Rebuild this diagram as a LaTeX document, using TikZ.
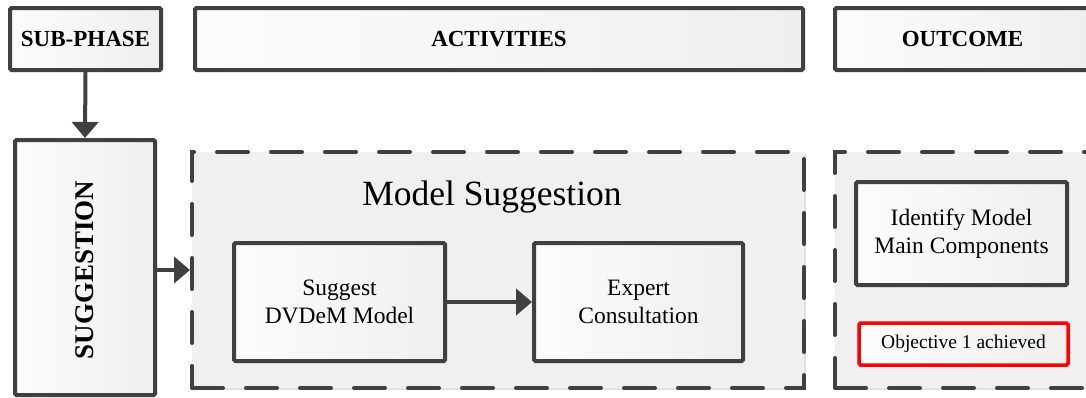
\documentclass[tikz,border=0pt]{standalone}
\usepackage{fontspec}
\setmainfont{Liberation Serif}
\usetikzlibrary{arrows.meta,shadows}
\definecolor{edge}{HTML}{404040}
\definecolor{panel}{HTML}{F0F0F0}
\definecolor{boxend}{HTML}{EFEFEF}
\definecolor{boxstart}{HTML}{FCFCFC}
\tikzset{
  boxshadow/.style={drop shadow={opacity=0.12,shadow xshift=2pt,shadow yshift=-2pt,fill=black}},
  solidbox/.style={draw=edge,line width=4pt,rounded corners=1.5pt,left color=boxstart,right color=boxend,
    boxshadow,inner sep=0pt,align=center,text=black},
  header/.style={solidbox,font=\fontsize{23}{27}\selectfont\bfseries},
  stepbox/.style={solidbox,font=\fontsize{23.5}{28}\selectfont},
  goalbox/.style={draw=red,line width=3.5pt,rounded corners=1.5pt,left color=boxstart,right color=boxend,
    boxshadow,inner sep=0pt,align=center,font=\fontsize{19.5}{23}\selectfont},
  panelbox/.style={draw=edge,fill=panel,line width=4pt,dash pattern=on 31pt off 23pt,line cap=round,
    inner sep=0pt,boxshadow},
  flow/.style={draw=edge,line width=4pt,-{Triangle[length=16pt,width=26pt]}},
}
\begin{document}
\begin{tikzpicture}[x=1pt,y=-1pt]
  \useasboundingbox (0,0) rectangle (1086,397);
  \clip (0,0) rectangle (1086,397);
  \fill[white] (0,0) rectangle (1086,397);

  % column headers
  \node[header,minimum width=151pt,minimum height=62pt] (subphase) at (85.5,39) {SUB-PHASE};
  \node[header,minimum width=608pt,minimum height=62pt] (activities) at (499,39) {ACTIVITIES};
  \node[header,minimum width=255pt,minimum height=62pt] (outcome) at (962.5,39) {OUTCOME};

  % dashed panels
  \node[panelbox,minimum width=612pt,minimum height=236pt] (actpanel) at (498,270) {};
  \node[panelbox,minimum width=265pt,minimum height=236pt] (outpanel) at (967.5,270) {};

  % sub-phase column
  \node[solidbox,minimum width=140pt,minimum height=255pt] (suggestion) at (85,267.5) {};
  \node[rotate=90,font=\fontsize{27}{32}\selectfont\bfseries] (suggestlabel) at (85,270) {SUGGESTION};

  % activities
  \node[font=\fontsize{35.5}{40}\selectfont,anchor=base] (acttitle) at (492,205) {Model Suggestion};
  \node[stepbox,minimum width=211pt,minimum height=118pt] (suggest) at (339.5,302) {Suggest\\DVDeM Model};
  \node[stepbox,minimum width=209pt,minimum height=118pt] (expert) at (638.5,302) {Expert\\Consultation};

  % outcome
  \node[stepbox,minimum width=211pt,minimum height=103pt] (identify) at (961.5,233.5) {Identify Model\\Main Components};
  \node[goalbox,minimum width=209pt,minimum height=42pt] (objective) at (963.5,344) {Objective 1 achieved};

  % connectors
  \draw[flow] (subphase.south) -- (suggestion.north);
  \draw[flow] (suggestion.east |- actpanel.west) -- (actpanel.west);
  \draw[flow] (suggest) -- (expert);
\end{tikzpicture}
\end{document}
